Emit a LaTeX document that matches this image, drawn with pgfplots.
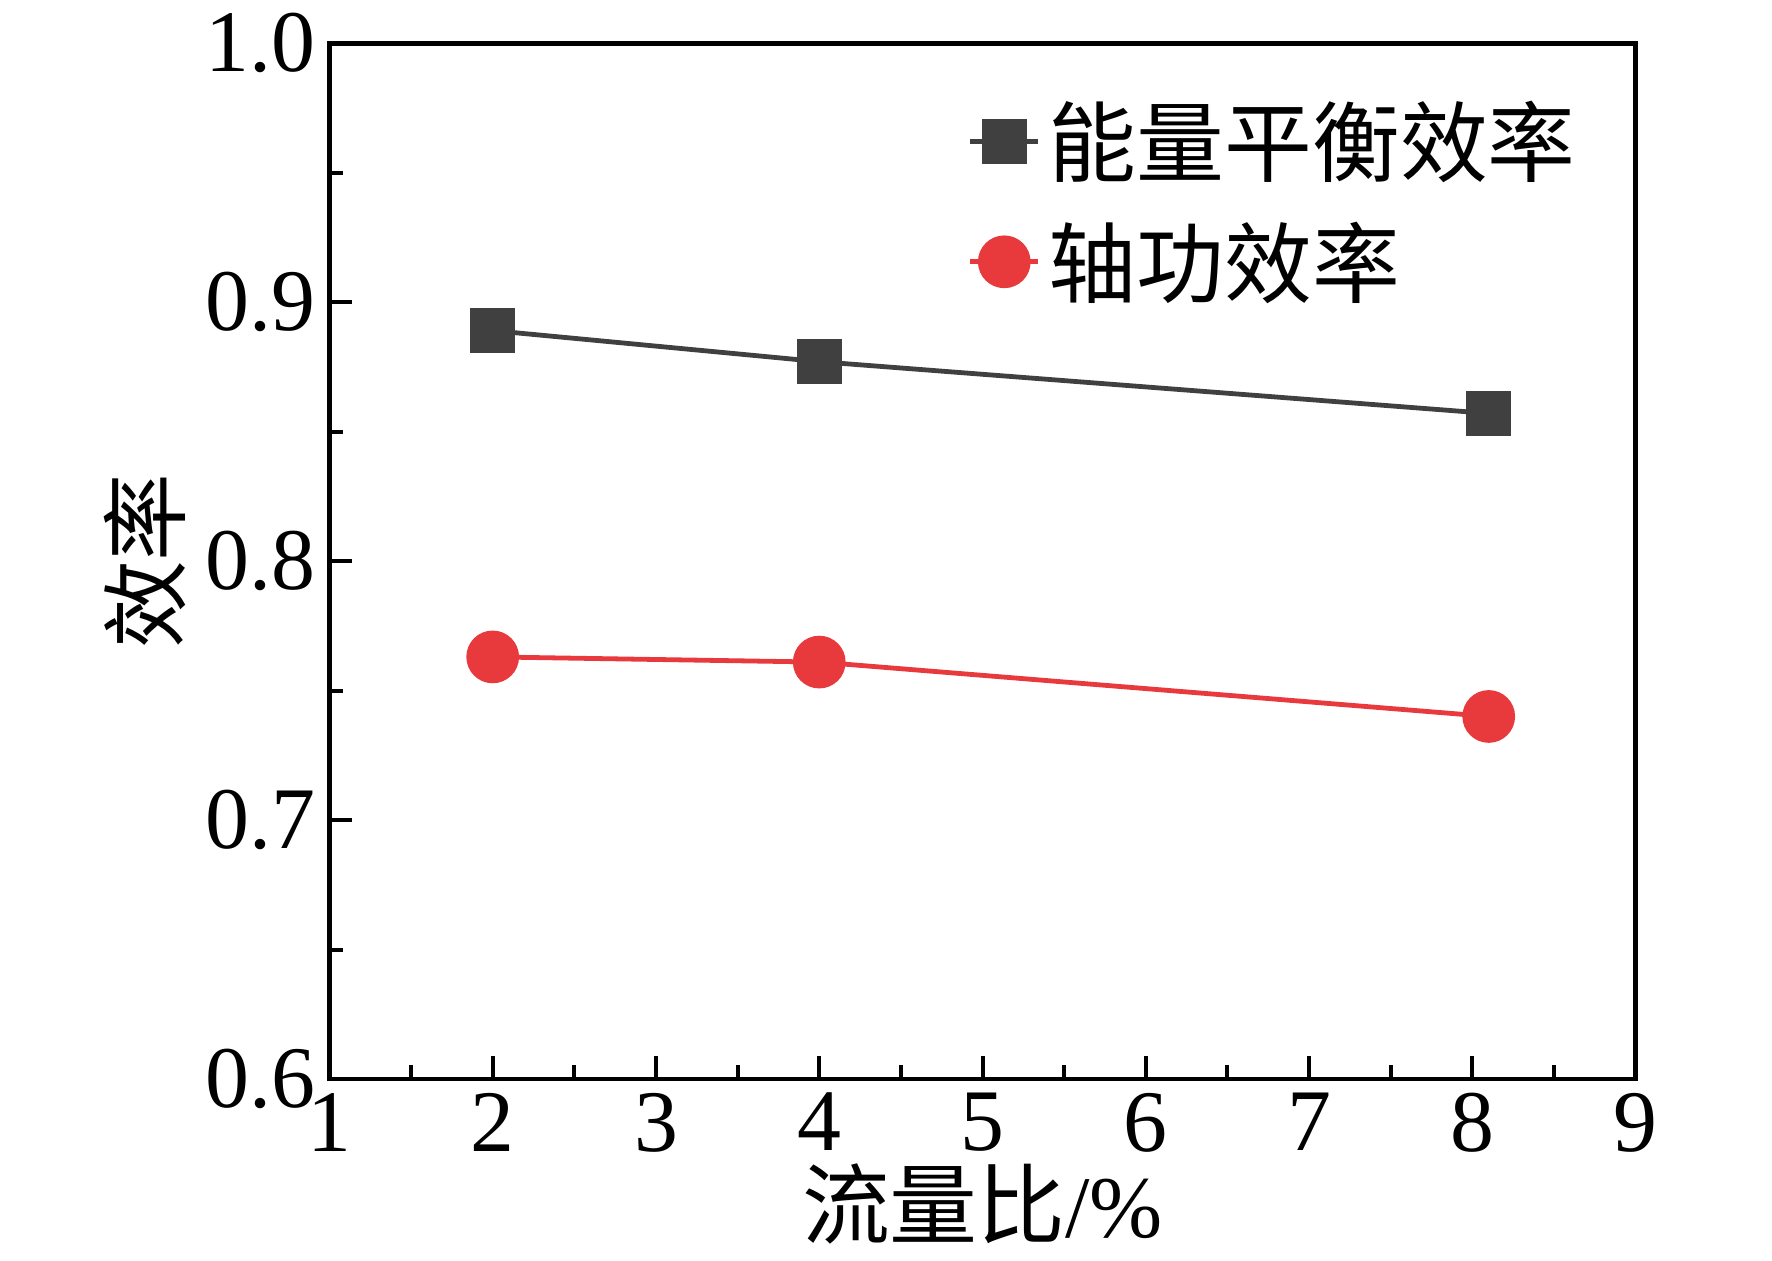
\documentclass[border=0pt]{standalone}
\usepackage{pgfplots}
\pgfplotsset{compat=1.18}
\usepackage{fontspec}
\setmainfont{Liberation Serif}
\newfontfamily\cjk{Noto Sans CJK SC}
\definecolor{dg}{HTML}{404040}
\definecolor{rd}{HTML}{E8393C}
\begin{document}
\begin{tikzpicture}
\begin{axis}[name=ax,
  width=11.5cm,height=9.12cm,scale only axis,
  xmin=1,xmax=9,ymin=0.6,ymax=1.0,
  xtick={1,...,9},ytick={0.6,0.7,0.8,0.9,1.0},
  minor x tick num=1,minor y tick num=1,
  tick align=inside,xtick pos=bottom,ytick pos=left,
  major tick length=0.2cm,minor tick length=0.12cm,
  axis line style={line width=1.2pt},
  every tick/.style={line width=1pt,black},
  yticklabel style={/pgf/number format/.cd,fixed,fixed zerofill,precision=1},
  /pgf/number format/assume math mode=true,
  ticklabel style={font=\fontsize{22}{26}\selectfont},
  xlabel={\cjk 流量比\rmfamily/\%},ylabel={\cjk 效率},
  label style={font=\fontsize{22}{26}\selectfont},
  xlabel style={yshift=4pt},ylabel style={yshift=-2pt},
  legend style={draw=none,fill=none,at={(0.97,0.96)},anchor=north east,
    font=\cjk\fontsize{22}{26}\selectfont,row sep=6pt},
  legend cell align=left,
]
\addplot[dg,line width=1.2pt,mark=square*,mark size=5pt] coordinates {(2,0.889)(4,0.877)(8.1,0.857)};
\addlegendentry{能量平衡效率}
\addplot[rd,line width=1.2pt,mark=*,mark size=6pt] coordinates {(2,0.763)(4,0.761)(8.1,0.740)};
\addlegendentry{轴功效率}
\end{axis}
\path[use as bounding box] ([shift={(-2.9cm,-1.6cm)}]ax.south west) rectangle ([shift={(1.2cm,0.28cm)}]ax.north east);
\end{tikzpicture}
\end{document}
